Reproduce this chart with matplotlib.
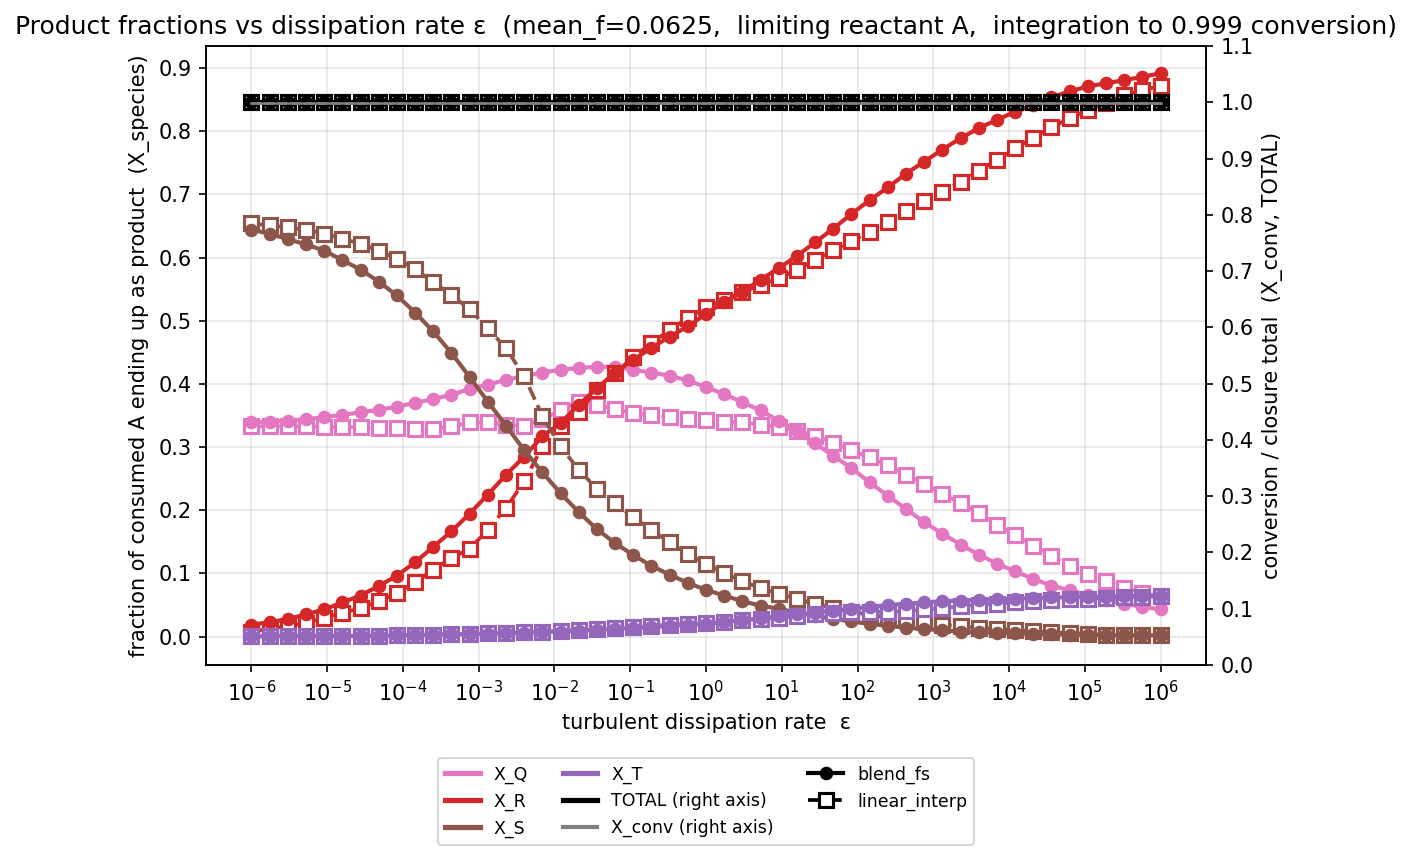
import numpy as np
import matplotlib
matplotlib.use("Agg")
import matplotlib.pyplot as plt
from matplotlib.lines import Line2D

# dissipation rate grid (51 points, 1e-6 .. 1e6)
eps = np.logspace(-6, 6, 51)

# blend_fs results
XQ_blend = [0.339, 0.3405, 0.342, 0.344, 0.3475, 0.351, 0.355, 0.359, 0.364, 0.370, 0.376,
            0.383, 0.392, 0.399, 0.4066, 0.412, 0.418, 0.4225, 0.425, 0.4275, 0.4266, 0.4225,
            0.418, 0.413, 0.4055, 0.395, 0.384, 0.371, 0.358, 0.342, 0.325, 0.306, 0.286,
            0.267, 0.244, 0.223, 0.202, 0.181, 0.163, 0.1456, 0.1297, 0.1155, 0.1033, 0.0913,
            0.0807, 0.0733, 0.066, 0.058, 0.052, 0.047, 0.043]
XR_blend = [0.019, 0.0226, 0.028, 0.035, 0.043, 0.054, 0.065, 0.080, 0.0965, 0.1176, 0.142,
            0.1666, 0.1946, 0.2247, 0.256, 0.285, 0.317, 0.338, 0.367, 0.393, 0.418, 0.438,
            0.457, 0.475, 0.491, 0.511, 0.530, 0.546, 0.565, 0.583, 0.603, 0.624, 0.646,
            0.669, 0.691, 0.711, 0.733, 0.752, 0.771, 0.789, 0.805, 0.818, 0.831, 0.842,
            0.854, 0.863, 0.871, 0.876, 0.881, 0.886, 0.892]
XS_blend = [0.644, 0.638, 0.629, 0.621, 0.611, 0.596, 0.581, 0.562, 0.540, 0.513, 0.483,
            0.449, 0.411, 0.372, 0.334, 0.295, 0.260, 0.227, 0.197, 0.170, 0.148, 0.129,
            0.112, 0.098, 0.085, 0.074, 0.065, 0.056, 0.049, 0.044, 0.038, 0.033, 0.028,
            0.024, 0.020, 0.017, 0.014, 0.012, 0.010, 0.008, 0.007, 0.006, 0.005, 0.004,
            0.0035, 0.003, 0.0025, 0.002, 0.002, 0.002, 0.002]
XT_blend = [0.0005, 0.0005, 0.0005, 0.0005, 0.0007, 0.001, 0.0012, 0.0015, 0.002, 0.0025, 0.003,
            0.0035, 0.004, 0.0045, 0.005, 0.006, 0.007, 0.008, 0.009, 0.011, 0.012, 0.014,
            0.015, 0.017, 0.019, 0.020, 0.023, 0.026, 0.029, 0.032, 0.035, 0.038, 0.041,
            0.044, 0.047, 0.050, 0.052, 0.054, 0.056, 0.057, 0.058, 0.059, 0.060, 0.061,
            0.062, 0.062, 0.063, 0.063, 0.064, 0.064, 0.064]
TOTAL_blend = [1.0] * 51
Xconv_blend = [0.999] * 51

# linear_interp results
XQ_lin = [0.3326, 0.333, 0.3326, 0.3326, 0.332, 0.3315, 0.3315, 0.331, 0.331, 0.329, 0.329,
          0.3326, 0.339, 0.339, 0.3354, 0.3337, 0.344, 0.358, 0.372, 0.367, 0.360, 0.354,
          0.351, 0.3475, 0.345, 0.343, 0.3405, 0.339, 0.3354, 0.3316, 0.326, 0.318, 0.307,
          0.2946, 0.2836, 0.271, 0.256, 0.242, 0.226, 0.2114, 0.1956, 0.177, 0.161, 0.144,
          0.127, 0.112, 0.0996, 0.0875, 0.077, 0.069, 0.064]
XR_lin = [0.008, 0.012, 0.017, 0.0216, 0.0296, 0.0375, 0.045, 0.056, 0.069, 0.086, 0.106,
          0.1245, 0.139, 0.169, 0.2035, 0.2457, 0.301, 0.333, 0.356, 0.391, 0.417, 0.443,
          0.464, 0.486, 0.504, 0.5225, 0.533, 0.545, 0.557, 0.567, 0.581, 0.596, 0.612,
          0.626, 0.641, 0.657, 0.673, 0.689, 0.704, 0.720, 0.7375, 0.754, 0.773, 0.790,
          0.806, 0.8205, 0.834, 0.845, 0.857, 0.865, 0.872]
XS_lin = [0.654, 0.651, 0.648, 0.644, 0.638, 0.630, 0.622, 0.611, 0.598, 0.582, 0.561,
          0.541, 0.518, 0.488, 0.4565, 0.412, 0.3495, 0.301, 0.264, 0.234, 0.211, 0.189,
          0.169, 0.149, 0.131, 0.115, 0.101, 0.0875, 0.077, 0.068, 0.0596, 0.052, 0.045,
          0.0385, 0.035, 0.0296, 0.0258, 0.0226, 0.019, 0.0163, 0.0137, 0.012, 0.011, 0.0084,
          0.0068, 0.0058, 0.0042, 0.003, 0.002, 0.002, 0.002]
XT_lin = [0.0005, 0.0005, 0.0005, 0.0005, 0.0005, 0.0005, 0.0005, 0.001, 0.002, 0.003, 0.003,
          0.004, 0.004, 0.005, 0.006, 0.007, 0.008, 0.009, 0.010, 0.012, 0.014, 0.015,
          0.017, 0.019, 0.020, 0.021, 0.023, 0.026, 0.028, 0.030, 0.032, 0.035, 0.037,
          0.0385, 0.039, 0.039, 0.040, 0.043, 0.045, 0.048, 0.0506, 0.052, 0.054, 0.056,
          0.0585, 0.059, 0.060, 0.061, 0.062, 0.063, 0.064]
TOTAL_lin = [1.0] * 51
Xconv_lin = [0.999] * 51

species = ["X_Q", "X_R", "X_S", "X_T"]
colors = {"X_Q": "#e377c2", "X_R": "#d62728", "X_S": "#8c564b", "X_T": "#9467bd"}
blend = {"X_Q": XQ_blend, "X_R": XR_blend, "X_S": XS_blend, "X_T": XT_blend}
lin = {"X_Q": XQ_lin, "X_R": XR_lin, "X_S": XS_lin, "X_T": XT_lin}

fig = plt.figure(figsize=(1412 / 150, 860 / 150), dpi=150)
ax = fig.add_axes([206 / 1412, 1 - 665 / 860, 1000 / 1412, 619 / 860])
ax2 = ax.twinx()

# linear first, blend on top (circles fill the open squares where they overlap)
for sp in species:
    c = colors[sp]
    ax.plot(eps, lin[sp], color=c, lw=1.8, ls="--", marker="s", ms=6.5,
            mfc="white", mew=1.5)
    ax.plot(eps, blend[sp], color=c, lw=2, marker="o", ms=5.5)

# closure / conversion on right axis
ax2.plot(eps, TOTAL_lin, color="black", lw=1.8, ls="--", marker="s", ms=6.5, mfc="white", mew=1.5)
ax2.plot(eps, TOTAL_blend, color="black", lw=2, marker="o", ms=5.5)
ax2.plot(eps, Xconv_lin, color="gray", lw=1.2, ls="--")
ax2.plot(eps, Xconv_blend, color="gray", lw=1.2)

ax.set_xscale("log")
ax.set_xticks([10.0 ** k for k in range(-6, 7)])
ax.set_ylim(-0.045, 0.935)
ax.set_yticks(np.arange(0, 0.91, 0.1))
ax2.set_ylim(0, 1.1)
ax2.set_yticks(np.arange(0, 1.11, 0.1))
ax.grid(True, alpha=0.3)

ax.set_xlabel("turbulent dissipation rate  ε")
ax.set_ylabel("fraction of consumed A ending up as product  (X_species)")
ax2.set_ylabel("conversion / closure total  (X_conv, TOTAL)")
ax.set_title("Product fractions vs dissipation rate ε  (mean_f=0.0625,  limiting reactant A,  "
             "integration to 0.999 conversion)", fontsize=12)

handles = [Line2D([], [], color=colors[sp], lw=2.5, label=sp) for sp in species]
handles += [Line2D([], [], color="black", lw=2.5, label="TOTAL (right axis)"),
            Line2D([], [], color="gray", lw=2, label="X_conv (right axis)"),
            Line2D([], [], color="black", lw=2, marker="o", ms=5.5, label="blend_fs"),
            Line2D([], [], color="black", lw=1.8, ls="--", marker="s", ms=6.5, mfc="white",
                   mew=1.5, label="linear_interp")]
ax.legend(handles=handles, loc="upper center", bbox_to_anchor=(0.5, -0.137), ncol=3,
          fontsize="small")

fig.savefig("out.png", dpi=150)
